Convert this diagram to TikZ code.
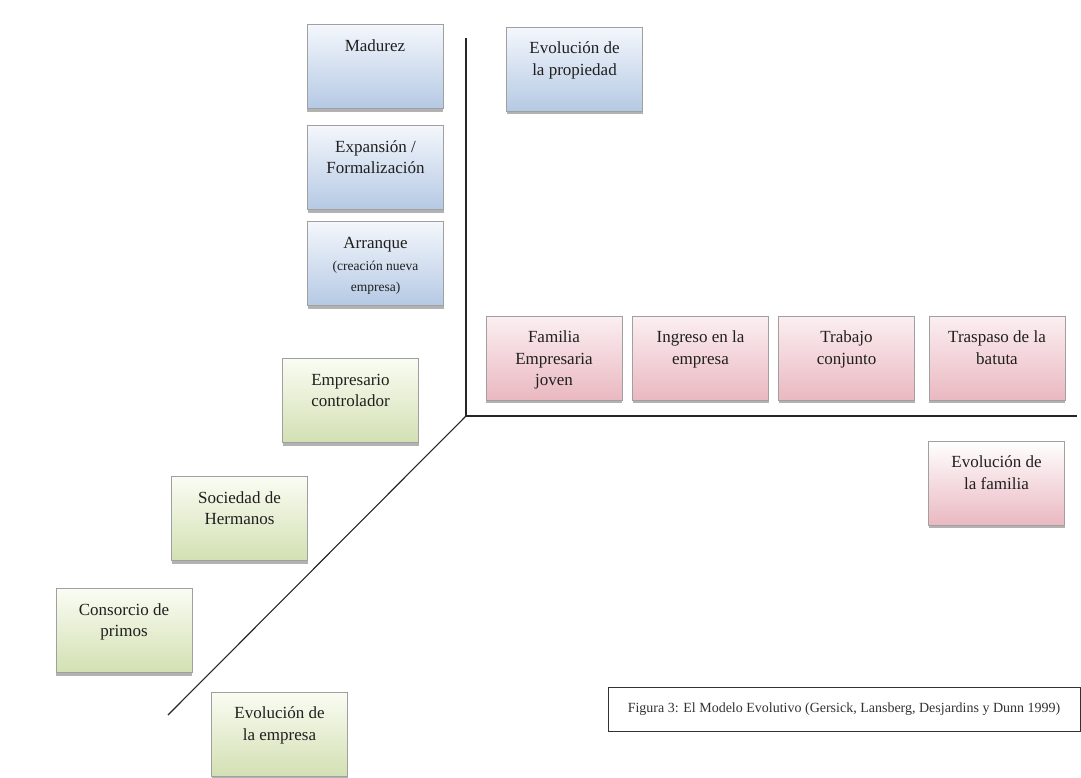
\documentclass[tikz,border=0pt]{standalone}
\usepackage{fontspec}
\setmainfont{Liberation Serif}
\usetikzlibrary{shadows}

\definecolor{blueTop}{HTML}{F4F7FC}
\definecolor{blueBot}{HTML}{B5C9E4}
\definecolor{greenTop}{HTML}{FAFCF3}
\definecolor{greenBot}{HTML}{D3E0B3}
\definecolor{pinkTop}{HTML}{FBEFF1}
\definecolor{pinkBot}{HTML}{EAB8C1}
\definecolor{boxEdge}{HTML}{A0A0A0}
\definecolor{axisInk}{HTML}{262626}

% top-aligned, centred text block inside a stage box
\newcommand\stagetext[1]{\parbox[t][84pt][t]{134pt}{\centering\vspace*{11.5pt}\strut#1\strut}}

\tikzset{
  stagebox/.style={draw=boxEdge, line width=0.6pt, inner sep=0pt,
    minimum width=136pt, minimum height=84pt,
    font=\fontsize{17}{21.5}\selectfont, text=black!88,
    drop shadow={shadow xshift=0pt, shadow yshift=-3pt, opacity=0.5, fill=black!60}},
  bluebox/.style={stagebox, top color=blueTop, bottom color=blueBot},
  greenbox/.style={stagebox, top color=greenTop, bottom color=greenBot},
  pinkbox/.style={stagebox, top color=pinkTop, bottom color=pinkBot},
  axisline/.style={draw=axisInk, line width=1.3pt},
  captionbox/.style={draw=black!80, line width=0.8pt, fill=white, inner sep=0pt,
    minimum width=472pt, minimum height=44pt,
    font=\fontsize{14}{16}\selectfont, text=black!80}
}

\begin{document}
\begin{tikzpicture}[x=1pt, y=-1pt]
\useasboundingbox[fill=white] (0,0) rectangle (1081,777);

% axes
\coordinate (origin) at (466,416);
\coordinate (vtop) at (466,38);
\coordinate (hend) at (1077,416);
\coordinate (dend) at (168,715);
\draw[axisline] (vtop) -- (origin) -- (hend);
\draw[axisline, line width=1.1pt] (origin) -- (dend);

% ownership axis
\node[bluebox] (madurez)   at (375,66.5)  {\stagetext{Madurez}};
\node[bluebox] (expansion) at (375.5,167.5) {\stagetext{Expansión /\\Formalización}};
\node[bluebox] (arranque)  at (375.5,263.5) {\stagetext{Arranque\\[1pt]{\fontsize{13.5}{21}\selectfont(creación nueva\\empresa)}}};
\node[bluebox] (propiedad) at (574.5,69)  {\stagetext{Evolución de\\la propiedad}};

% business axis
\node[greenbox] (empresario) at (350.5,400.5) {\stagetext{Empresario\\controlador}};
\node[greenbox] (hermanos)   at (239.5,518.5) {\stagetext{Sociedad de\\Hermanos}};
\node[greenbox] (primos)     at (124,630.5)   {\stagetext{Consorcio de\\primos}};
\node[greenbox] (empresa)    at (279.5,734)   {\stagetext{Evolución de\\la empresa}};

% family axis
\node[pinkbox] (familia)   at (554,358)   {\stagetext{Familia\\Empresaria\\joven}};
\node[pinkbox] (ingreso)   at (700.5,358) {\stagetext{Ingreso en la\\empresa}};
\node[pinkbox] (trabajo)   at (846.5,358) {\stagetext{Trabajo\\conjunto}};
\node[pinkbox] (traspaso)  at (997,358)   {\stagetext{Traspaso de la\\batuta}};
\node[pinkbox, top color=white] (evfamilia) at (996.5,483) {\stagetext{Evolución de\\la familia}};

% caption
\node[captionbox] (caption) at (844,709) {Figura 3: El Modelo Evolutivo (Gersick, Lansberg, Desjardins y Dunn 1999)};
\end{tikzpicture}
\end{document}
